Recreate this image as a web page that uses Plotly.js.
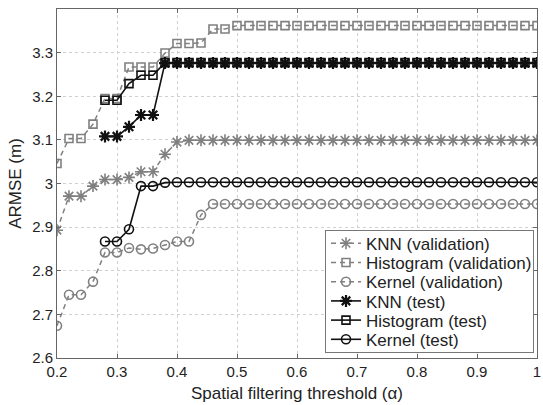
<!DOCTYPE html>
<html><head><meta charset="utf-8">
<script src="https://cdn.plot.ly/plotly-3.0.1.min.js"></script>
<style>html,body{margin:0;padding:0;background:#fff}#c{width:543px;height:405px}</style>
</head><body><div id="c"></div>
<script>
const xVal = [0.20,0.22,0.24,0.26,0.28,0.30,0.32,0.34,0.36,0.38,0.40,0.42,0.44,0.46,0.48,0.50,0.52,0.54,0.56,0.58,0.60,0.62,0.64,0.66,0.68,0.70,0.72,0.74,0.76,0.78,0.80,0.82,0.84,0.86,0.88,0.90,0.92,0.94,0.96,0.98,1.00];
const xTest = [0.28,0.30,0.32,0.34,0.36,0.38,0.40,0.42,0.44,0.46,0.48,0.50,0.52,0.54,0.56,0.58,0.60,0.62,0.64,0.66,0.68,0.70,0.72,0.74,0.76,0.78,0.80,0.82,0.84,0.86,0.88,0.90,0.92,0.94,0.96,0.98,1.00];

const knnVal = [2.893,2.971,2.971,2.994,3.009,3.009,3.014,3.027,3.027,3.067,3.095,
  3.099,3.099,3.099,3.099,3.099,3.099,3.099,3.099,3.099,3.099,3.099,3.099,3.099,3.099,3.099,
  3.099,3.099,3.099,3.099,3.099,3.099,3.099,3.099,3.099,3.099,3.099,3.099,3.099,3.099,3.099];
const histVal = [3.046,3.103,3.103,3.136,3.195,3.195,3.267,3.267,3.267,3.299,3.321,3.321,3.322,3.354,3.354,
  3.362,3.362,3.362,3.362,3.362,3.362,3.362,3.362,3.362,3.362,3.362,3.362,3.362,
  3.362,3.362,3.362,3.362,3.362,3.362,3.362,3.362,3.362,3.362,3.362,3.362,3.362];
const kernelVal = [2.674,2.745,2.745,2.775,2.842,2.842,2.852,2.849,2.851,2.859,2.867,2.867,2.928,
  2.953,2.953,2.953,2.953,2.953,2.953,2.953,2.953,2.953,2.953,2.953,2.953,2.953,2.953,2.953,
  2.953,2.953,2.953,2.953,2.953,2.953,2.953,2.953,2.953,2.953,2.953,2.953,2.953];

const knnTest = [3.108,3.108,3.130,3.157,3.157,
  3.276,3.276,3.276,3.276,3.276,3.276,3.276,3.276,3.276,3.276,3.276,3.276,3.276,3.276,3.276,3.276,
  3.276,3.276,3.276,3.276,3.276,3.276,3.276,3.276,3.276,3.276,3.276,3.276,3.276,3.276,3.276,3.276];
const histTest = [3.191,3.191,3.229,3.248,3.248,
  3.277,3.277,3.277,3.277,3.277,3.277,3.277,3.277,3.277,3.277,3.277,3.277,3.277,3.277,3.277,3.277,
  3.277,3.277,3.277,3.277,3.277,3.277,3.277,3.277,3.277,3.277,3.277,3.277,3.277,3.277,3.277,3.277];
const kernelTest = [2.867,2.867,2.895,2.994,2.994,3.002,
  3.003,3.003,3.003,3.003,3.003,3.003,3.003,3.003,3.003,3.003,3.003,3.003,3.003,3.003,3.003,
  3.003,3.003,3.003,3.003,3.003,3.003,3.003,3.003,3.003,3.003,3.003,3.003,3.003,3.003,3.003,3.003];

const names = ['KNN (validation)','Histogram (validation)','Kernel (validation)','KNN (test)','Histogram (test)','Kernel (test)'];
const xTicks = [0.2,0.3,0.4,0.5,0.6,0.7,0.8,0.9,1];
const xTickText = ['0.2','0.3','0.4','0.5','0.6','0.7','0.8','0.9','1'];
const yTicks = [2.6,2.7,2.8,2.9,3.0,3.1,3.2,3.3];
const yTickText = ['2.6','2.7','2.8','2.9','3','3.1','3.2','3.3'];

const gray = '#808080', black = '#111111';
function tr(x, y, name, sym, col, dash, size, lw){
  return {x:x, y:y, name:name, type:'scatter', mode:'lines+markers',
    line:{color:col, width:lw, dash:dash},
    marker:{symbol:sym, size:size, color:col, line:{color:col, width:1.6}}};
}
const data = [
  tr(xVal, knnVal, names[0], 'asterisk-open', gray, '5px,4px', 10, 1.5),
  tr(xVal, histVal, names[1], 'square-open', gray, '5px,4px', 8, 1.5),
  tr(xVal, kernelVal, names[2], 'circle-open', gray, '5px,4px', 9, 1.5),
  tr(xTest, knnTest, names[3], 'asterisk-open', black, 'solid', 10, 1.6),
  tr(xTest, histTest, names[4], 'square-open', black, 'solid', 8, 1.6),
  tr(xTest, kernelTest, names[5], 'circle-open', black, 'solid', 9, 1.6)
];
data[3].marker.line.width = 2.2;

const font = {family:'"Liberation Sans", Arial, sans-serif', size:15, color:'#222'};
const layout = {
  width:543, height:405,
  margin:{l:57, r:6, t:9, b:47},
  paper_bgcolor:'#fff', plot_bgcolor:'#fff',
  font:font,
  showlegend:true,
  xaxis:{range:[0.2,1], tickvals:xTicks, ticktext:xTickText, ticks:'inside', ticklen:4,
    tickcolor:'#666', showline:true, linecolor:'#666', linewidth:1, mirror:'ticks',
    showgrid:true, gridcolor:'#d0d0d0', griddash:'dot', zeroline:false,
    tickfont:{size:15}, title:{text:'Spatial filtering threshold (α)', font:{size:17}, standoff:8}},
  yaxis:{range:[2.6,3.4], tickvals:yTicks, ticktext:yTickText, ticks:'inside', ticklen:4,
    tickcolor:'#666', showline:true, linecolor:'#666', linewidth:1, mirror:'ticks',
    showgrid:true, gridcolor:'#d0d0d0', griddash:'dot', zeroline:false,
    tickfont:{size:15}, title:{text:'ARMSE (m)', font:{size:17}, standoff:6}},
  legend:{x:0.985, y:0.017, xanchor:'right', yanchor:'bottom', bgcolor:'#fff',
    bordercolor:'#777', borderwidth:1, font:{size:17, color:'#222'}, tracegroupgap:0}
};
Plotly.newPlot('c', data, layout, {staticPlot:true, displayModeBar:false}).then(function(gd){
  // compact the legend rows to match the tight MATLAB legend spacing
  const leg = gd.querySelector('.legend');
  if(!leg) return;
  const boxX = 325, boxY = 230, boxW = 208, rowH = 19.2, firstY = 13.3;
  const items = leg.querySelectorAll('.traces');
  items.forEach(function(t, i){
    const m = /translate\(\s*([-\d.e]+)[ ,]+([-\d.e]+)\s*\)/.exec(t.getAttribute('transform') || '');
    const tx = m ? parseFloat(m[1]) : 1;
    t.setAttribute('transform', 'translate(' + tx + ',' + (firstY + i * rowH) + ')');
  });
  const boxH = firstY + (items.length - 1) * rowH + 13;
  const bg = leg.querySelector('rect.bg');
  if(bg){ bg.setAttribute('width', boxW); bg.setAttribute('height', boxH); }
  leg.querySelectorAll('clipPath rect, rect.scrollbox-bg').forEach(function(r){
    r.setAttribute('width', boxW); r.setAttribute('height', boxH);
  });
  leg.setAttribute('transform', 'translate(' + boxX + ',' + boxY + ')');
});
</script></body></html>
